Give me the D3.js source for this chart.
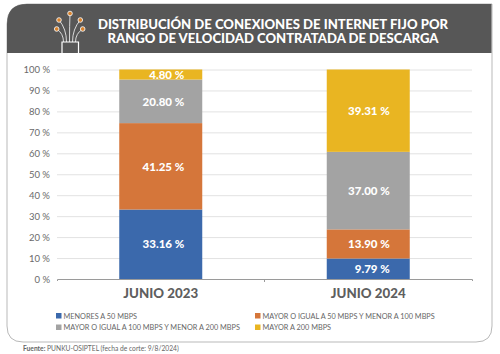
<!DOCTYPE html>
<html><head><meta charset="utf-8">
<script src="https://cdn.jsdelivr.net/npm/d3@7"></script>
<style>html,body{margin:0;padding:0;background:#fff}svg{display:block}text{font-family:Lato,"Open Sans",sans-serif}</style>
</head><body><div id="c"></div>
<script>
const periods = ["JUNIO 2023","JUNIO 2024"];
const seriesNames = ["MENORES A 50 MBPS","MAYOR O IGUAL A 50 MBPS Y MENOR A 100 MBPS","MAYOR O IGUAL A 100 MBPS Y MENOR A 200 MBPS","MAYOR A 200 MBPS"];
const seriesColors = ["#3b69ac","#d5763a","#a3a3a3","#e9b522"];
const below50 = [33.16,9.79];
const from50to100 = [41.25,13.90];
const from100to200 = [20.80,37.00];
const above200 = [4.80,39.31];
const yTicks = [0,10,20,30,40,50,60,70,80,90,100];
const titleLines = ["DISTRIBUCIÓN DE CONEXIONES DE INTERNET FIJO POR","RANGO DE VELOCIDAD CONTRATADA DE DESCARGA"];
const sourceLabel = "Fuente:";
const sourceText = " PUNKU-OSIPTEL (fecha de corte: 9/8/2024)";

const W=500,H=354;
const svg=d3.select("#c").append("svg").attr("width",W).attr("height",H);
const L=7,R=492,T=4,HB=53,B=342,r=20,rb=16;
svg.append("path").attr("d",`M${L},${T+r}Q${L},${T} ${L+r},${T}H${R}V${B-rb}Q${R},${B} ${R-rb},${B}H${L+rb}Q${L},${B} ${L},${B-rb}Z`)
  .attr("fill","#fff").attr("stroke","#b9b9b9").attr("stroke-width",1);
svg.append("path").attr("d",`M${L},${HB}V${T+r}Q${L},${T} ${L+r},${T}H${R-0.5}V${HB}Z`).attr("fill","#575757");

// icon
const ic=svg.append("g");
const ox=69.5;
const ends=[[56.7,29],[59,20],[70,13.5],[80.3,20],[82.7,29]];
ends.forEach((e,i)=>{
  const bx=ox+(i-2)*3;
  ic.append("path").attr("d",`M${bx},42Q${bx},${(e[1]+42)/2-2} ${e[0]},${e[1]}`).attr("fill","none").attr("stroke","#e8e8e8").attr("stroke-width",.9);
  ic.append("circle").attr("cx",e[0]).attr("cy",e[1]).attr("r",2.3).attr("fill","#d9822b").attr("stroke","#f2f2f2").attr("stroke-width",.9);
});
ic.append("path").attr("d","M62,53V42H78.5V53").attr("fill","none").attr("stroke","#fff").attr("stroke-width",1.2);

svg.selectAll(".ttl").data(titleLines).join("text").attr("class","ttl")
  .attr("x",273).attr("y",(d,i)=>i?43:29).attr("text-anchor","middle")
  .attr("fill","#fff").attr("font-weight",900).attr("font-size",13.1).text(d=>d);

const x=d3.scaleBand().domain(periods).range([57,472]).paddingInner(.6).paddingOuter(.3);
const y=d3.scaleLinear().domain([0,100]).range([279,69.5]);

const grid=d3.axisLeft(y).tickValues(yTicks.filter(d=>d>0)).tickSize(-415).tickFormat("");
svg.append("g").attr("transform","translate(57,0)").call(grid)
  .call(g=>g.select(".domain").remove())
  .selectAll("line").attr("stroke","#e2e2e2").attr("stroke-width",1);

const yAxis=d3.axisLeft(y).tickValues(yTicks).tickSize(0).tickPadding(7).tickFormat(d=>d+" %");
svg.append("g").attr("transform","translate(57,0)").call(yAxis)
  .call(g=>g.select(".domain").remove())
  .selectAll("text").attr("fill","#6a6a6a").attr("font-size",9.5).style("font-family","Lato,sans-serif");

const table=periods.map((p,i)=>({period:p,s0:below50[i],s1:from50to100[i],s2:from100to200[i],s3:above200[i]}));
const keys=["s0","s1","s2","s3"];
const stack=d3.stack().keys(keys)(table);
const gs=svg.selectAll(".s").data(stack).join("g").attr("class","s");
gs.each(function(ser,si){
  const g=d3.select(this);
  g.selectAll("rect").data(ser).join("rect")
    .attr("x",d=>x(d.data.period)).attr("width",x.bandwidth())
    .attr("y",d=>y(d[1])).attr("height",d=>y(d[0])-y(d[1]))
    .attr("fill",seriesColors[si]);
  g.selectAll("text").data(ser).join("text")
    .attr("x",(d,i)=>x(d.data.period)+x.bandwidth()/2+(i?21.5:23.5))
    .attr("y",d=>(y(d[0])+y(d[1]))/2+4.2)
    .attr("text-anchor","end").attr("fill","#fff").attr("font-weight",900).attr("font-size",11.5)
    .text(d=>(d[1]-d[0]).toFixed(2)+" %");
});

svg.append("path").attr("d","M57.5,281V279.5H472.5V281").attr("fill","none").attr("stroke","#9a9a9a").attr("stroke-width",1);
svg.append("path").attr("d","M264.5,279.5V282").attr("fill","none").attr("stroke","#9a9a9a").attr("stroke-width",1);
svg.selectAll(".xl").data(periods).join("text").attr("class","xl")
  .attr("x",d=>x(d)+x.bandwidth()/2).attr("y",297.5).attr("text-anchor","middle")
  .attr("fill","#5f5f5f").attr("font-weight",900).attr("font-size",13.3).text(d=>d);

const legPos=[[56,316],[255,316],[56,327.5],[255,327.5]];
const leg=svg.selectAll(".lg").data(seriesNames).join("g").attr("class","lg")
  .attr("transform",(d,i)=>`translate(${legPos[i][0]},${legPos[i][1]})`);
leg.append("rect").attr("x",0).attr("y",-3).attr("width",5.5).attr("height",5.5).attr("fill",(d,i)=>seriesColors[i]);
leg.append("text").attr("x",7.5).attr("y",2.8).attr("fill","#666").attr("font-size",7.3).text(d=>d);

const src=svg.append("text").attr("x",23).attr("y",351).attr("font-size",6.7).attr("fill","#666");
src.append("tspan").attr("font-weight",700).text(sourceLabel);
src.append("tspan").text(sourceText);
</script></body></html>
